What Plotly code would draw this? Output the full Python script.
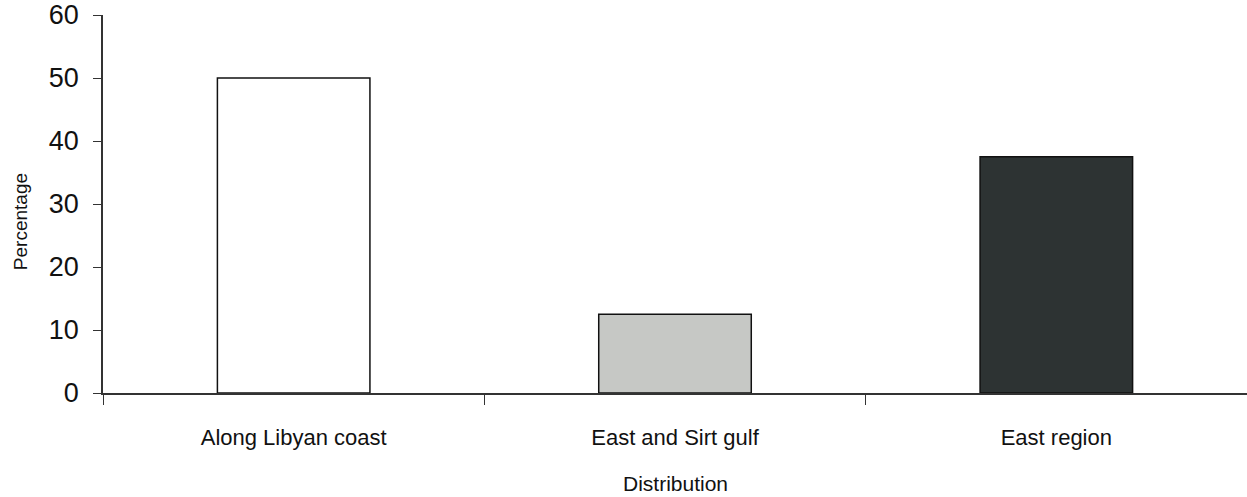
import plotly.graph_objects as go

categories = ["Along Libyan coast", "East and Sirt gulf", "East region"]
percentages = [50, 12.5, 37.5]
bar_colors = ["#ffffff", "#c6c8c5", "#2d3333"]
y_ticks = [0, 10, 20, 30, 40, 50, 60]

fig = go.Figure(
    go.Bar(
        x=categories,
        y=percentages,
        marker=dict(color=bar_colors, line=dict(color="#111111", width=1.5)),
        width=0.4,
        hoverinfo="skip",
    )
)

font_family = "Liberation Sans, Arial, sans-serif"

fig.update_layout(
    width=1247,
    height=497,
    margin=dict(l=103, r=0, t=15, b=104),
    plot_bgcolor="white",
    paper_bgcolor="white",
    showlegend=False,
    font=dict(family=font_family, color="#111111"),
    xaxis=dict(
        type="category",
        range=[-0.5, 2.5],
        showline=True,
        linecolor="#333333",
        linewidth=1.5,
        ticks="outside",
        tickson="boundaries",
        ticklen=10,
        tickwidth=1.2,
        tickcolor="#333333",
        tickfont=dict(size=22, family=font_family, color="#111111"),
        ticklabelstandoff=24,
        showgrid=False,
        zeroline=False,
        automargin=False,
    ),
    yaxis=dict(
        range=[0, 60],
        tickvals=y_ticks,
        showline=True,
        linecolor="#333333",
        linewidth=1.5,
        ticks="outside",
        ticklen=8,
        tickwidth=1.2,
        tickcolor="#333333",
        tickfont=dict(size=27, family=font_family, color="#111111"),
        ticklabelstandoff=9,
        ticklabeloverflow="allow",
        showgrid=False,
        zeroline=False,
        automargin=False,
    ),
    annotations=[
        dict(
            text="Percentage",
            xref="paper",
            yref="paper",
            x=0,
            y=0.452,
            xshift=-83,
            textangle=-90,
            showarrow=False,
            font=dict(size=19, family=font_family, color="#111111"),
            xanchor="center",
            yanchor="middle",
        ),
        dict(
            text="Distribution",
            xref="paper",
            yref="paper",
            x=0.5,
            y=0,
            yshift=-90,
            showarrow=False,
            font=dict(size=21, family=font_family, color="#111111"),
            xanchor="center",
            yanchor="middle",
        ),
    ],
)

fig.write_html(
    "out.html",
    config={"displayModeBar": False},
    post_script="document.body.style.margin='0';document.body.style.overflow='hidden';",
)
